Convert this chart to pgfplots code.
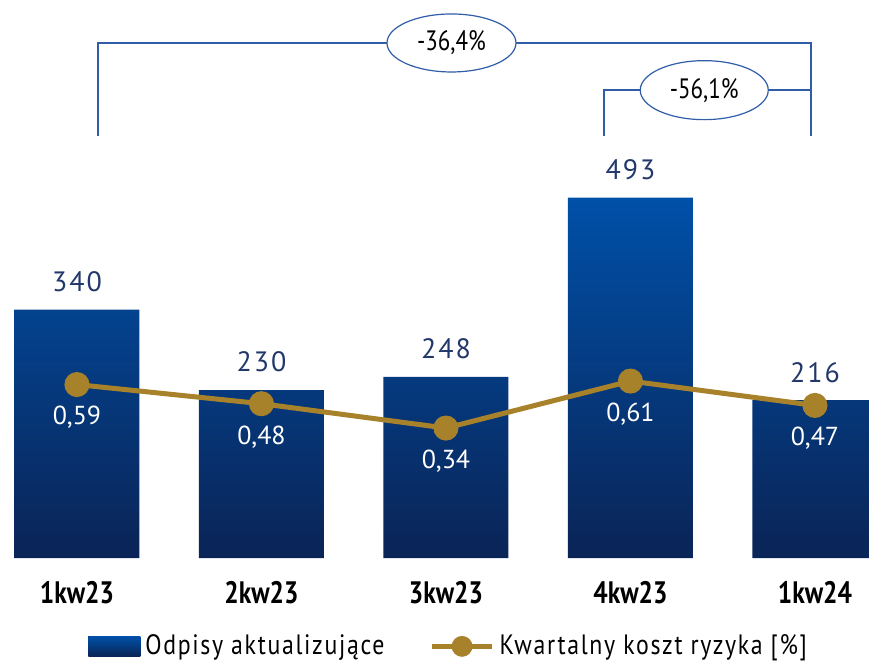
\documentclass[border=0pt]{standalone}
\usepackage{pgfplots}
\pgfplotsset{compat=1.18}
\usepackage{pgfplotstable}
\usetikzlibrary{shapes.geometric}
\usepackage{fontspec}
\setmainfont{PT Sans}
\newfontfamily\cond[FakeStretch=0.82]{PT Sans}
\newfontfamily\condleg[FakeStretch=0.85, LetterSpace=6]{PT Sans}
\newfontfamily\spaced[LetterSpace=7]{PT Sans}
\definecolor{bartop}{HTML}{0050A8}
\definecolor{barbot}{HTML}{0A2456}
\definecolor{gold}{HTML}{A8822A}
\definecolor{navy}{HTML}{22386A}
\definecolor{brk}{HTML}{2F5DA8}

\pgfplotstableread{
x y label
0 340 340
1 230 230
2 248 248
3 493 493
4 216 216
}\bars
\pgfplotstableread{
x y label
0 0.59 {0,59}
1 0.48 {0,48}
2 0.34 {0,34}
3 0.61 {0,61}
4 0.47 {0,47}
}\risk

\begin{document}
\begin{tikzpicture}
\begin{axis}[
  width=434.5pt, height=279pt, scale only axis,
  xmin=-0.417, xmax=4.293, ymin=0, ymax=763,
  axis line style={draw=none},
  major tick length=0pt,
  ytick=\empty,
  xtick={0,1,2,3,4},
  xticklabels={1kw23,2kw23,3kw23,4kw23,1kw24},
  xticklabel style={font=\bfseries\cond\fontsize{15.5}{17}\selectfont, yshift=-8pt},
  ybar, bar width=62.5pt,
  legend style={at={(0.518,-0.158)}, anchor=center, draw=none, fill=none,
    legend columns=2, font=\condleg\fontsize{14}{16}\selectfont,
    /tikz/every even column/.append style={column sep=20pt},
    /tikz/every odd column/.append style={column sep=0pt},
    /tikz/every node/.append style={inner xsep=2.5pt}},
]
\addplot[draw=none, top color=bartop, bottom color=barbot,
  nodes near coords, point meta=explicit symbolic,
  every node near coord/.append style={anchor=center, yshift=14pt, text=navy, font=\spaced\fontsize{14}{16}\selectfont},
  legend image code/.code={\fill[top color=bartop,bottom color=barbot] (0pt,-5pt) rectangle (26pt,5pt);}]
  table[x=x, y=y, meta=label] {\bars};
\addlegendentry{Odpisy aktualizujące}
\addlegendimage{legend image code/.code={\draw[gold,line width=2.5pt] (0pt,0pt) -- (30pt,0pt); \fill[gold] (15pt,0pt) circle (5pt);}}
\addlegendentry{Kwartalny koszt ryzyka [\%]}
\draw[brk, line width=0.8pt] (axis cs:0.114,577) |- (axis cs:3.98,704.5) -- (axis cs:3.98,577);
\draw[brk, line width=0.8pt] (axis cs:2.856,577) |- (axis cs:3.98,640);
\node[draw=brk, line width=0.6pt, fill=white, ellipse, minimum width=64.5pt, minimum height=29pt, inner sep=0pt, font=\cond\fontsize{14}{16}\selectfont] at (axis cs:2.03,704.5) {-36,4\%};
\node[draw=brk, line width=0.6pt, fill=white, ellipse, minimum width=64pt, minimum height=29.5pt, inner sep=0pt, font=\cond\fontsize{14}{16}\selectfont] at (axis cs:3.40,640) {-56,1\%};
\end{axis}
\begin{axis}[
  width=434.5pt, height=279pt, scale only axis,
  xmin=-0.417, xmax=4.293, ymin=-0.408, ymax=2.799,
  hide axis,
]
\addplot[gold, line width=2.5pt, mark=*, mark size=5pt, mark options={fill=gold, draw=gold},
  nodes near coords, point meta=explicit symbolic,
  every node near coord/.append style={anchor=center, yshift=-16.5pt, text=white, font=\fontsize{13}{15}\selectfont}]
  table[x=x, y=y, meta=label] {\risk};
\end{axis}
\path ([yshift=-52.5pt]current axis.south west) rectangle (current axis.north east);
\end{tikzpicture}
\end{document}
